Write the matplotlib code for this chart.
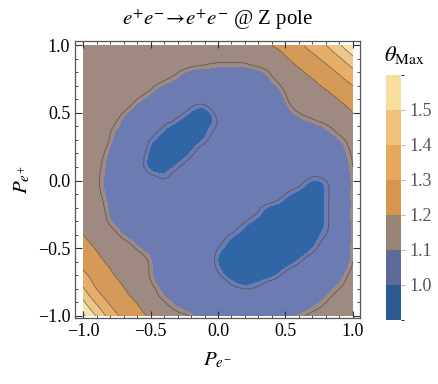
import numpy as np
import matplotlib
matplotlib.use('Agg')
import matplotlib.pyplot as plt
import matplotlib.tri as mtri
from matplotlib.colors import ListedColormap, BoundaryNorm
from matplotlib.cm import ScalarMappable
from matplotlib.ticker import MultipleLocator

plt.rcParams['font.family'] = 'serif'
plt.rcParams['font.serif'] = ['Liberation Serif', 'DejaVu Serif']
plt.rcParams['mathtext.fontset'] = 'stix'

# polarisation grid (P_e-, P_e+), step 0.1
p_em = np.arange(-1.0, 1.01, 0.1)
p_ep = np.arange(-1.0, 1.01, 0.1)

# theta_Max, rows from P_e+ = 1.0 down to -1.0
theta_rows = [
    [1.15, 1.15, 1.15, 1.15, 1.15, 1.15, 1.15, 1.15, 1.15, 1.15, 1.15, 1.15, 1.15, 1.16, 1.20, 1.24, 1.28, 1.34, 1.40, 1.49, 1.60],
    [1.15, 1.15, 1.15, 1.15, 1.15, 1.15, 1.15, 1.15, 1.15, 1.135, 1.128, 1.128, 1.13, 1.145, 1.15, 1.189, 1.234, 1.275, 1.325, 1.389, 1.476],
    [1.15, 1.15, 1.15, 1.15, 1.15, 1.15, 1.14, 1.118, 1.09, 1.085, 1.078, 1.078, 1.08, 1.09, 1.123, 1.15, 1.184, 1.225, 1.266, 1.312, 1.376],
    [1.15, 1.15, 1.15, 1.15, 1.15, 1.128, 1.093, 1.075, 1.055, 1.05, 1.05, 1.05, 1.05, 1.05, 1.085, 1.128, 1.15, 1.175, 1.217, 1.258, 1.299],
    [1.15, 1.15, 1.15, 1.15, 1.115, 1.078, 1.05, 1.05, 1.035, 1.035, 1.05, 1.05, 1.05, 1.05, 1.05, 1.105, 1.145, 1.15, 1.166, 1.205, 1.25],
    [1.15, 1.15, 1.15, 1.113, 1.073, 1.05, 1.05, 1.03, 0.995, 0.985, 1.03, 1.05, 1.05, 1.05, 1.05, 1.075, 1.115, 1.135, 1.15, 1.155, 1.20],
    [1.15, 1.15, 1.125, 1.083, 1.05, 1.047, 1.013, 0.98, 0.955, 0.983, 1.02, 1.05, 1.05, 1.05, 1.05, 1.05, 1.065, 1.085, 1.108, 1.135, 1.15],
    [1.15, 1.15, 1.11, 1.065, 1.05, 1.013, 0.975, 0.95, 0.97, 1.005, 1.04, 1.05, 1.05, 1.05, 1.05, 1.05, 1.05, 1.05, 1.07, 1.10, 1.14],
    [1.15, 1.14, 1.09, 1.05, 1.038, 0.99, 0.95, 0.965, 1.005, 1.045, 1.05, 1.05, 1.05, 1.05, 1.05, 1.05, 1.05, 1.05, 1.05, 1.075, 1.125],
    [1.15, 1.13, 1.08, 1.05, 1.04, 0.99, 0.98, 1.01, 1.04, 1.05, 1.05, 1.05, 1.05, 1.05, 1.05, 1.05, 1.05, 1.05, 1.05, 1.065, 1.115],
    [1.15, 1.125, 1.075, 1.05, 1.05, 1.04, 1.02, 1.04, 1.05, 1.05, 1.05, 1.05, 1.05, 1.05, 1.05, 1.05, 1.035, 1.0, 1.015, 1.05, 1.11],
    [1.15, 1.13, 1.08, 1.05, 1.05, 1.05, 1.05, 1.05, 1.05, 1.05, 1.05, 1.05, 1.05, 1.05, 1.05, 1.015, 0.985, 0.97, 1.005, 1.05, 1.11],
    [1.15, 1.14, 1.09, 1.05, 1.05, 1.05, 1.05, 1.05, 1.05, 1.05, 1.05, 1.05, 1.05, 1.023, 0.99, 0.97, 0.95, 0.955, 1.005, 1.05, 1.11],
    [1.15, 1.148, 1.105, 1.067, 1.05, 1.05, 1.05, 1.05, 1.05, 1.05, 1.05, 1.05, 1.018, 0.987, 0.955, 0.95, 0.95, 0.955, 1.005, 1.05, 1.11],
    [1.20, 1.155, 1.137, 1.10, 1.07, 1.05, 1.05, 1.05, 1.05, 1.05, 1.04, 1.01, 0.978, 0.95, 0.95, 0.95, 0.95, 0.975, 1.015, 1.05, 1.11],
    [1.238, 1.192, 1.15, 1.14, 1.11, 1.073, 1.05, 1.05, 1.05, 1.05, 1.015, 0.98, 0.95, 0.95, 0.95, 0.95, 0.965, 1.0, 1.04, 1.06, 1.11],
    [1.274, 1.228, 1.181, 1.15, 1.143, 1.105, 1.055, 1.05, 1.05, 1.05, 1.0, 0.96, 0.95, 0.95, 0.95, 0.975, 1.01, 1.045, 1.05, 1.065, 1.115],
    [1.324, 1.263, 1.217, 1.17, 1.15, 1.11, 1.065, 1.05, 1.05, 1.05, 1.025, 0.98, 0.965, 0.975, 0.99, 1.03, 1.05, 1.05, 1.055, 1.085, 1.135],
    [1.415, 1.30, 1.253, 1.206, 1.159, 1.13, 1.085, 1.06, 1.05, 1.05, 1.05, 1.03, 1.015, 1.025, 1.05, 1.05, 1.05, 1.055, 1.08, 1.115, 1.15],
    [1.52, 1.386, 1.289, 1.242, 1.196, 1.15, 1.118, 1.087, 1.062, 1.05, 1.05, 1.05, 1.05, 1.05, 1.05, 1.05, 1.061, 1.085, 1.115, 1.15, 1.15],
    [1.62, 1.493, 1.36, 1.278, 1.232, 1.185, 1.15, 1.13, 1.11, 1.06, 1.05, 1.05, 1.05, 1.05, 1.05, 1.08, 1.105, 1.13, 1.15, 1.15, 1.15],
]

band_edges = [0.9, 1.0, 1.1, 1.2, 1.3, 1.4, 1.5, 1.6]
cbar_ticks = [1.0, 1.1, 1.2, 1.3, 1.4, 1.5]
fill_colors = ['#3066a5', '#6c7cb3', '#9e8a80', '#d69a58', '#e6ae68', '#f0c686', '#f8e2ac']
bar_colors = ['#2b5a8e', '#5d6a9b', '#978477', '#d5964f', '#e6a95b', '#f0c178', '#f9dd9f']

Z = np.array(theta_rows)[::-1]
X, Y = np.meshgrid(p_em, p_ep)

# smooth the contour outlines with matplotlib's own triangular refiner
tri = mtri.Triangulation(X.ravel(), Y.ravel())
refiner = mtri.UniformTriRefiner(tri)
tri_f, z_f = refiner.refine_field(Z.ravel(), subdiv=3)

fig = plt.figure(figsize=(4.39, 3.84), dpi=100)
ax = fig.add_axes([0.171, 0.172, 0.649, 0.721])

fill_levels = band_edges[:-1] + [1.9]
ax.tricontourf(tri_f, z_f, levels=fill_levels, colors=fill_colors)
ax.tricontour(tri_f, z_f, levels=[1.015, 1.115], colors='#4a4a4a', linewidths=0.6, alpha=0.75)
ax.tricontour(tri_f, z_f, levels=[1.2, 1.3, 1.4, 1.5, 1.6], colors='#4a4a4a', linewidths=0.6, alpha=0.75)

ax.set_xlim(-1.059, 1.052)
ax.set_ylim(-1.015, 1.03)
ax.xaxis.set_major_locator(MultipleLocator(0.5))
ax.yaxis.set_major_locator(MultipleLocator(0.5))
ax.xaxis.set_minor_locator(MultipleLocator(0.1))
ax.yaxis.set_minor_locator(MultipleLocator(0.1))
ax.xaxis.set_major_formatter(lambda v, p: f'{v:.1f}'.replace('-', '\u2212'))
ax.yaxis.set_major_formatter(lambda v, p: f'{v:.1f}'.replace('-', '\u2212'))
ax.tick_params(which='both', direction='in', top=True, right=True, labelsize=13, colors='#333333', labelcolor='black')
ax.tick_params(which='major', length=5, width=0.8)
ax.tick_params(which='minor', length=2.5, width=0.6)
for s in ax.spines.values():
    s.set_color('#555555')
    s.set_linewidth(0.9)

ax.set_xlabel(r'$P_{e^{-}}$', fontsize=15, labelpad=8)
ax.set_ylabel(r'$P_{e^{+}}$', fontsize=15, labelpad=4)
fig.text(0.495, 0.95, r'$e^{+}e^{-}\!\rightarrow\! e^{+}e^{-}$ @ Z pole', fontsize=15,
         ha='center', va='center')

cax = fig.add_axes([0.879, 0.167, 0.034, 0.638])
sm = ScalarMappable(norm=BoundaryNorm(band_edges, len(bar_colors)), cmap=ListedColormap(bar_colors))
cb = fig.colorbar(sm, cax=cax, ticks=cbar_ticks)
cb.outline.set_visible(False)
cb.ax.set_yticklabels([f'{t:.1f}' for t in cbar_ticks])
cb.ax.tick_params(length=3, width=0.6, color='#aaaaaa', labelcolor='#555555', labelsize=13)
fig.text(0.922, 0.857, r'$\theta_{\mathrm{Max}}$', fontsize=16, ha='center', va='center')

fig.savefig('out.png', dpi=100)
